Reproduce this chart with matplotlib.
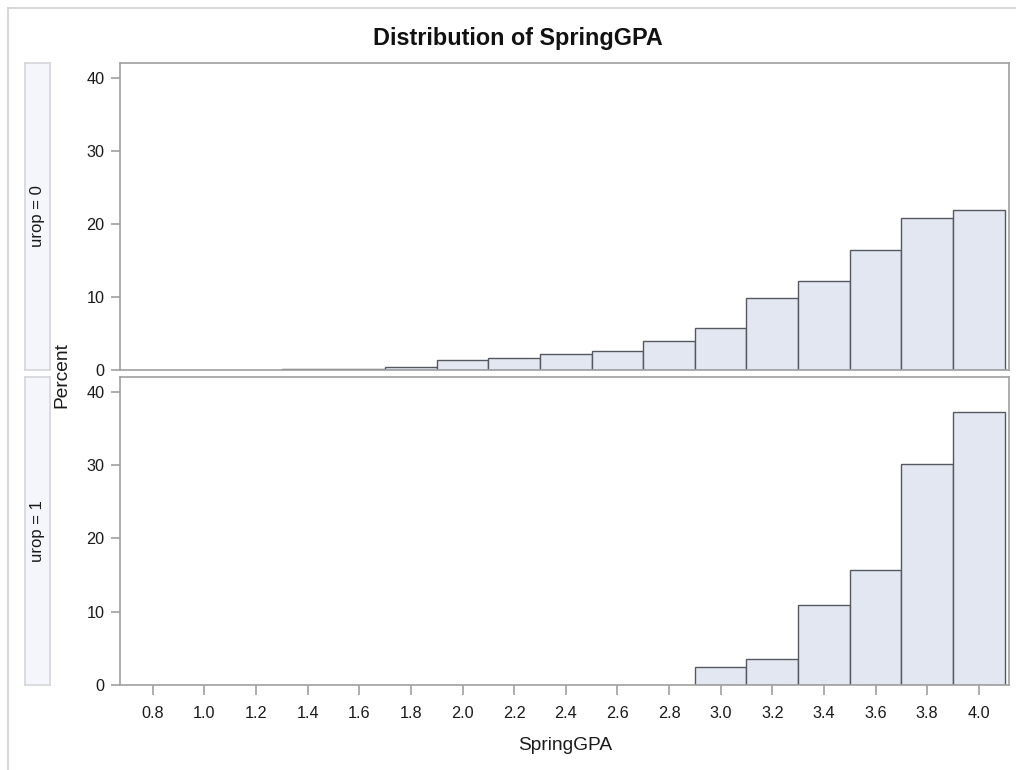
import numpy as np
import matplotlib
matplotlib.use('Agg')
import matplotlib.pyplot as plt
from matplotlib.lines import Line2D

plt.rcParams['font.family'] = ['Liberation Sans', 'DejaVu Sans']

# bin midpoints and percentages
bin_mid = [1.4, 1.6, 1.8, 2.0, 2.2, 2.4, 2.6, 2.8, 3.0, 3.2, 3.4, 3.6, 3.8, 4.0]
pct_urop0 = [0.2, 0.2, 0.45, 1.3, 1.7, 2.2, 2.6, 3.9, 5.7, 9.9, 12.2, 16.4, 20.8, 21.9]
pct_urop1 = [0, 0, 0, 0, 0, 0, 0, 0, 2.5, 3.6, 10.9, 15.7, 30.1, 37.2]
panel_labels = ['urop = 0', 'urop = 1']
xtick_vals = [0.8, 1.0, 1.2, 1.4, 1.6, 1.8, 2.0, 2.2, 2.4, 2.6, 2.8, 3.0, 3.2, 3.4, 3.6, 3.8, 4.0]
ytick_vals = [0, 10, 20, 30, 40]

W, H = 1016, 770
fig = plt.figure(figsize=(W / 100, H / 100), dpi=100)

def fx(px):
    return px / W

def fy(py):
    return 1 - py / H

bar_face = '#E3E7F1'
bar_edge = '#55595F'
spine_col = '#A0A0A0'
text_col = '#1A1A1A'
strip_face = '#F4F6FB'
strip_edge = '#D4D6DA'

# outer light frame
fig.add_artist(Line2D([fx(8), 1], [fy(8), fy(8)], color='#D0D0D0', lw=1.2))
fig.add_artist(Line2D([fx(8), fx(8)], [0, fy(8)], color='#D0D0D0', lw=1.2))

panels = [(63, 370, pct_urop0), (377, 685, pct_urop1)]
for i, (top, bot, vals) in enumerate(panels):
    ax = fig.add_axes([fx(120), fy(bot), fx(1009) - fx(120), fy(top) - fy(bot)])
    heights = np.array(vals)
    mask = heights > 0
    ax.bar(np.array(bin_mid)[mask], heights[mask], width=0.2, color=bar_face,
           edgecolor=bar_edge, linewidth=1.0, align='center')
    ax.set_xlim(0.673, 4.117)
    ax.set_ylim(0, 42.0)
    ax.set_yticks(ytick_vals)
    ax.set_xticks(xtick_vals)
    for s in ax.spines.values():
        s.set_color(spine_col)
        s.set_linewidth(1.2)
    ax.tick_params(axis='both', colors=spine_col, labelcolor=text_col,
                   labelsize=11.7, length=6.5, width=1.2, pad=4.5)
    if i == 0:
        ax.tick_params(axis='x', bottom=False, labelbottom=False)
    else:
        ax.set_xticklabels([f'{v:.1f}' for v in xtick_vals])
        ax.tick_params(axis='x', length=7, pad=8)

    # strip label on the left
    sax = fig.add_axes([fx(25), fy(bot), fx(50) - fx(25), fy(top) - fy(bot)])
    sax.set_xticks([])
    sax.set_yticks([])
    sax.set_facecolor(strip_face)
    for s in sax.spines.values():
        s.set_color(strip_edge)
        s.set_linewidth(1.2)
    sax.text(0.5, 0.5, panel_labels[i], rotation=90, ha='center', va='center',
             fontsize=12, color=text_col, transform=sax.transAxes)

fig.text(fx(518), fy(39), 'Distribution of SpringGPA', ha='center', va='center',
         fontsize=16.8, fontweight='bold', color='#111111')
fig.text(fx(62), fy(375), 'Percent', rotation=90, ha='center', va='center',
         fontsize=13.8, color=text_col)
fig.text(fx(565), fy(745), 'SpringGPA', ha='center', va='center',
         fontsize=13.8, color=text_col)

fig.savefig('out.png', dpi=100)
